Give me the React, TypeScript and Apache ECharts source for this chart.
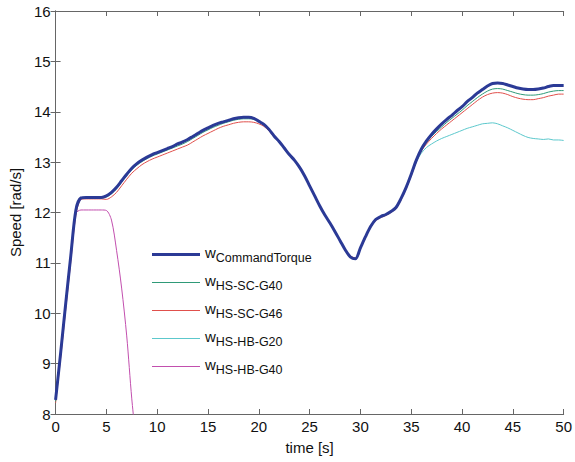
import React, { useEffect, useRef } from "react";
import * as echarts from "echarts";

const time = [0, 0.5, 1, 1.5, 2, 2.5, 3, 3.5, 4, 4.5, 5, 5.5, 6, 6.5, 7, 7.5, 8, 8.5, 9, 9.5,
  10, 10.5, 11, 11.5, 12, 12.5, 13, 13.5, 14, 14.5, 15, 15.5, 16, 16.5, 17, 17.5, 18, 18.5, 19, 19.5,
  20, 20.5, 21, 21.5, 22, 22.5, 23, 23.5, 24, 24.5, 25, 25.5, 26, 26.5, 27, 27.5, 28, 28.5, 29, 29.5,
  30, 30.5, 31, 31.5, 32, 32.5, 33, 33.5, 34, 34.5, 35, 35.5, 36, 36.5, 37, 37.5, 38, 38.5, 39, 39.5,
  40, 40.5, 41, 41.5, 42, 42.5, 43, 43.5, 44, 44.5, 45, 45.5, 46, 46.5, 47, 47.5, 48, 48.5, 49, 49.5, 50];

const wCommandTorque = [8.28, 9.22, 10.2, 11.15, 12.05, 12.29, 12.3, 12.3, 12.3, 12.3,
  12.33, 12.4, 12.5, 12.63, 12.76, 12.88, 12.97, 13.04, 13.1, 13.15,
  13.19, 13.23, 13.27, 13.31, 13.36, 13.4, 13.45, 13.51, 13.57, 13.63,
  13.68, 13.73, 13.77, 13.8, 13.83, 13.86, 13.88, 13.89, 13.89, 13.87,
  13.81, 13.75, 13.65, 13.52, 13.41, 13.28, 13.15, 13.04, 12.9, 12.73,
  12.53, 12.33, 12.13, 11.95, 11.79, 11.62, 11.44, 11.26, 11.12, 11.08,
  11.3, 11.52, 11.72, 11.86, 11.92, 11.96, 12.02, 12.1, 12.28, 12.5,
  12.76, 13.04, 13.26, 13.42, 13.55, 13.66, 13.76, 13.85, 13.93, 14.02,
  14.1, 14.2, 14.28, 14.37, 14.44, 14.51, 14.56, 14.57, 14.56, 14.53,
  14.5, 14.47, 14.45, 14.44, 14.44, 14.45, 14.47, 14.5, 14.52, 14.52, 14.52];

const wHSSCG40 = [8.25, 9.18, 10.15, 11.1, 12.02, 12.28, 12.29, 12.29, 12.29, 12.29,
  12.31, 12.37, 12.47, 12.6, 12.73, 12.85, 12.94, 13.01, 13.07, 13.12,
  13.16, 13.2, 13.24, 13.28, 13.32, 13.36, 13.41, 13.47, 13.53, 13.59,
  13.64, 13.69, 13.73, 13.77, 13.8, 13.83, 13.85, 13.86, 13.86, 13.85,
  13.8, 13.74, 13.64, 13.52, 13.41, 13.28, 13.15, 13.04, 12.9, 12.73,
  12.53, 12.33, 12.13, 11.95, 11.79, 11.62, 11.44, 11.26, 11.12, 11.08,
  11.29, 11.51, 11.71, 11.85, 11.91, 11.95, 12.01, 12.09, 12.27, 12.49,
  12.75, 13.03, 13.24, 13.39, 13.51, 13.61, 13.7, 13.79, 13.87, 13.95,
  14.03, 14.12, 14.2, 14.28, 14.35, 14.41, 14.45, 14.46, 14.45, 14.42,
  14.39, 14.36, 14.34, 14.33, 14.33, 14.34, 14.36, 14.39, 14.41, 14.42, 14.42];

const wHSSCG46 = [8.22, 9.12, 10.08, 11.03, 11.95, 12.26, 12.27, 12.27, 12.27, 12.27,
  12.26, 12.31, 12.4, 12.53, 12.66, 12.78, 12.87, 12.95, 13.01, 13.06,
  13.1, 13.14, 13.18, 13.22, 13.26, 13.3, 13.34, 13.4, 13.46, 13.52,
  13.57, 13.62, 13.67, 13.71, 13.74, 13.77, 13.79, 13.8, 13.8, 13.79,
  13.76, 13.71, 13.62, 13.5, 13.4, 13.27, 13.14, 13.03, 12.89, 12.72,
  12.52, 12.33, 12.13, 11.95, 11.8, 11.62, 11.44, 11.27, 11.14, 11.1,
  11.28, 11.5, 11.7, 11.84, 11.9, 11.94, 12.0, 12.08, 12.25, 12.47,
  12.73, 13.01, 13.22, 13.36, 13.47, 13.57, 13.66, 13.74, 13.82, 13.9,
  13.98, 14.06, 14.14, 14.22, 14.29, 14.34, 14.37, 14.38, 14.37, 14.34,
  14.3, 14.27, 14.25, 14.24, 14.24, 14.26, 14.28, 14.31, 14.33, 14.35, 14.35];

const wHSHBG20 = [8.27, 9.2, 10.18, 11.13, 12.03, 12.29, 12.3, 12.3, 12.3, 12.3,
  12.33, 12.39, 12.49, 12.62, 12.75, 12.87, 12.96, 13.03, 13.09, 13.14,
  13.18, 13.22, 13.26, 13.3, 13.35, 13.39, 13.44, 13.5, 13.56, 13.62,
  13.67, 13.72, 13.76, 13.79, 13.82, 13.85, 13.87, 13.88, 13.88, 13.86,
  13.8, 13.74, 13.64, 13.51, 13.4, 13.27, 13.14, 13.03, 12.89, 12.72,
  12.52, 12.32, 12.12, 11.94, 11.78, 11.61, 11.43, 11.25, 11.11, 11.07,
  11.29, 11.51, 11.71, 11.85, 11.91, 11.95, 12.01, 12.09, 12.27, 12.49,
  12.74, 13.0, 13.18, 13.29, 13.36, 13.42, 13.47, 13.51, 13.55, 13.59,
  13.63, 13.67, 13.7, 13.73, 13.76, 13.77, 13.78, 13.76, 13.72, 13.68,
  13.63, 13.58, 13.53, 13.49, 13.47, 13.46, 13.45, 13.46, 13.44, 13.44, 13.43];

const wHSHBG40 = [8.28, 9.22, 10.2, 11.15, 11.98, 12.05, 12.05, 12.05, 12.05, 12.05,
  12.04, 11.85, 11.25, 10.5, 9.55, 8.3, 7.3];

const seriesNames = ["CommandTorque", "HS-SC-G40", "HS-SC-G46", "HS-HB-G20", "HS-HB-G40"];
const seriesColors = ["#2b3a96", "#2f9a78", "#e0504c", "#5cc8cc", "#c24fae"];
const seriesWidths = [3, 1, 1, 1, 1];
const seriesValues = [wCommandTorque, wHSSCG40, wHSSCG46, wHSHBG20, wHSHBG40];

const xTicks = { min: 0, max: 50, interval: 5 };
const yTicks = { min: 8, max: 16, interval: 1 };

export default function App() {
  const ref = useRef<HTMLDivElement>(null);
  useEffect(() => {
    if (!ref.current) return;
    const chart = echarts.init(ref.current, undefined, { renderer: "svg" });
    const font = "Liberation Sans, Arial, sans-serif";
    const axisLine = { show: true, lineStyle: { color: "#666", width: 1 } };
    const axisTick = { show: true, inside: true, length: 5, lineStyle: { color: "#666" } };
    const series = seriesNames.map((name, i) => ({
      name,
      type: "line",
      data: seriesValues[i].map((v, j) => [time[j], v]),
      showSymbol: false,
      symbol: "none",
      smooth: 0.3,
      clip: true,
      z: 10 - i,
      lineStyle: { color: seriesColors[i], width: seriesWidths[i] },
      itemStyle: { color: seriesColors[i] },
    }));
    chart.setOption({
      animation: false,
      backgroundColor: "#fff",
      grid: { left: 54, right: 8, top: 11, bottom: 48, containLabel: false },
      legend: {
        orient: "vertical",
        left: 147,
        top: 237,
        itemWidth: 48,
        itemHeight: 10,
        itemGap: 6,
        data: seriesNames.map((n, i) => ({
          name: n,
          icon: i === 0 ? "path://M0,0 L48,0 L48,3 L0,3 Z" : "path://M0,0 L48,0 L48,1 L0,1 Z",
        })),
        formatter: (name: string) => `{w|w}{s|${name}}`,
        textStyle: {
          fontFamily: font,
          color: "#111",
          rich: {
            w: { fontSize: 15, fontFamily: font, color: "#111", verticalAlign: "top", lineHeight: 19 },
            s: { fontSize: 12.5, fontFamily: font, color: "#111", verticalAlign: "bottom", lineHeight: 19, padding: [9, 0, 0, 0] },
          },
        },
      },
      xAxis: [
        {
          type: "value",
          ...xTicks,
          name: "time [s]",
          nameLocation: "middle",
          nameGap: 26,
          nameTextStyle: { fontFamily: font, fontSize: 15, color: "#111" },
          axisLine,
          axisTick,
          axisLabel: { fontFamily: font, fontSize: 15, color: "#111", margin: 5 },
          splitLine: { show: false },
        },
        {
          type: "value",
          ...xTicks,
          position: "top",
          axisLine,
          axisTick,
          axisLabel: { show: false },
          splitLine: { show: false },
        },
      ],
      yAxis: [
        {
          type: "value",
          ...yTicks,
          name: "Speed [rad/s]",
          nameLocation: "middle",
          nameGap: 31,
          nameRotate: 90,
          nameTextStyle: { fontFamily: font, fontSize: 15, color: "#111" },
          axisLine,
          axisTick,
          axisLabel: { fontFamily: font, fontSize: 15, color: "#111", margin: 5 },
          splitLine: { show: false },
        },
        {
          type: "value",
          ...yTicks,
          position: "right",
          axisLine,
          axisTick,
          axisLabel: { show: false },
          splitLine: { show: false },
        },
      ],
      series,
    });
    return () => chart.dispose();
  }, []);
  return <div ref={ref} style={{ width: 575, height: 462, position: "absolute", left: 0, top: 0 }} />;
}
